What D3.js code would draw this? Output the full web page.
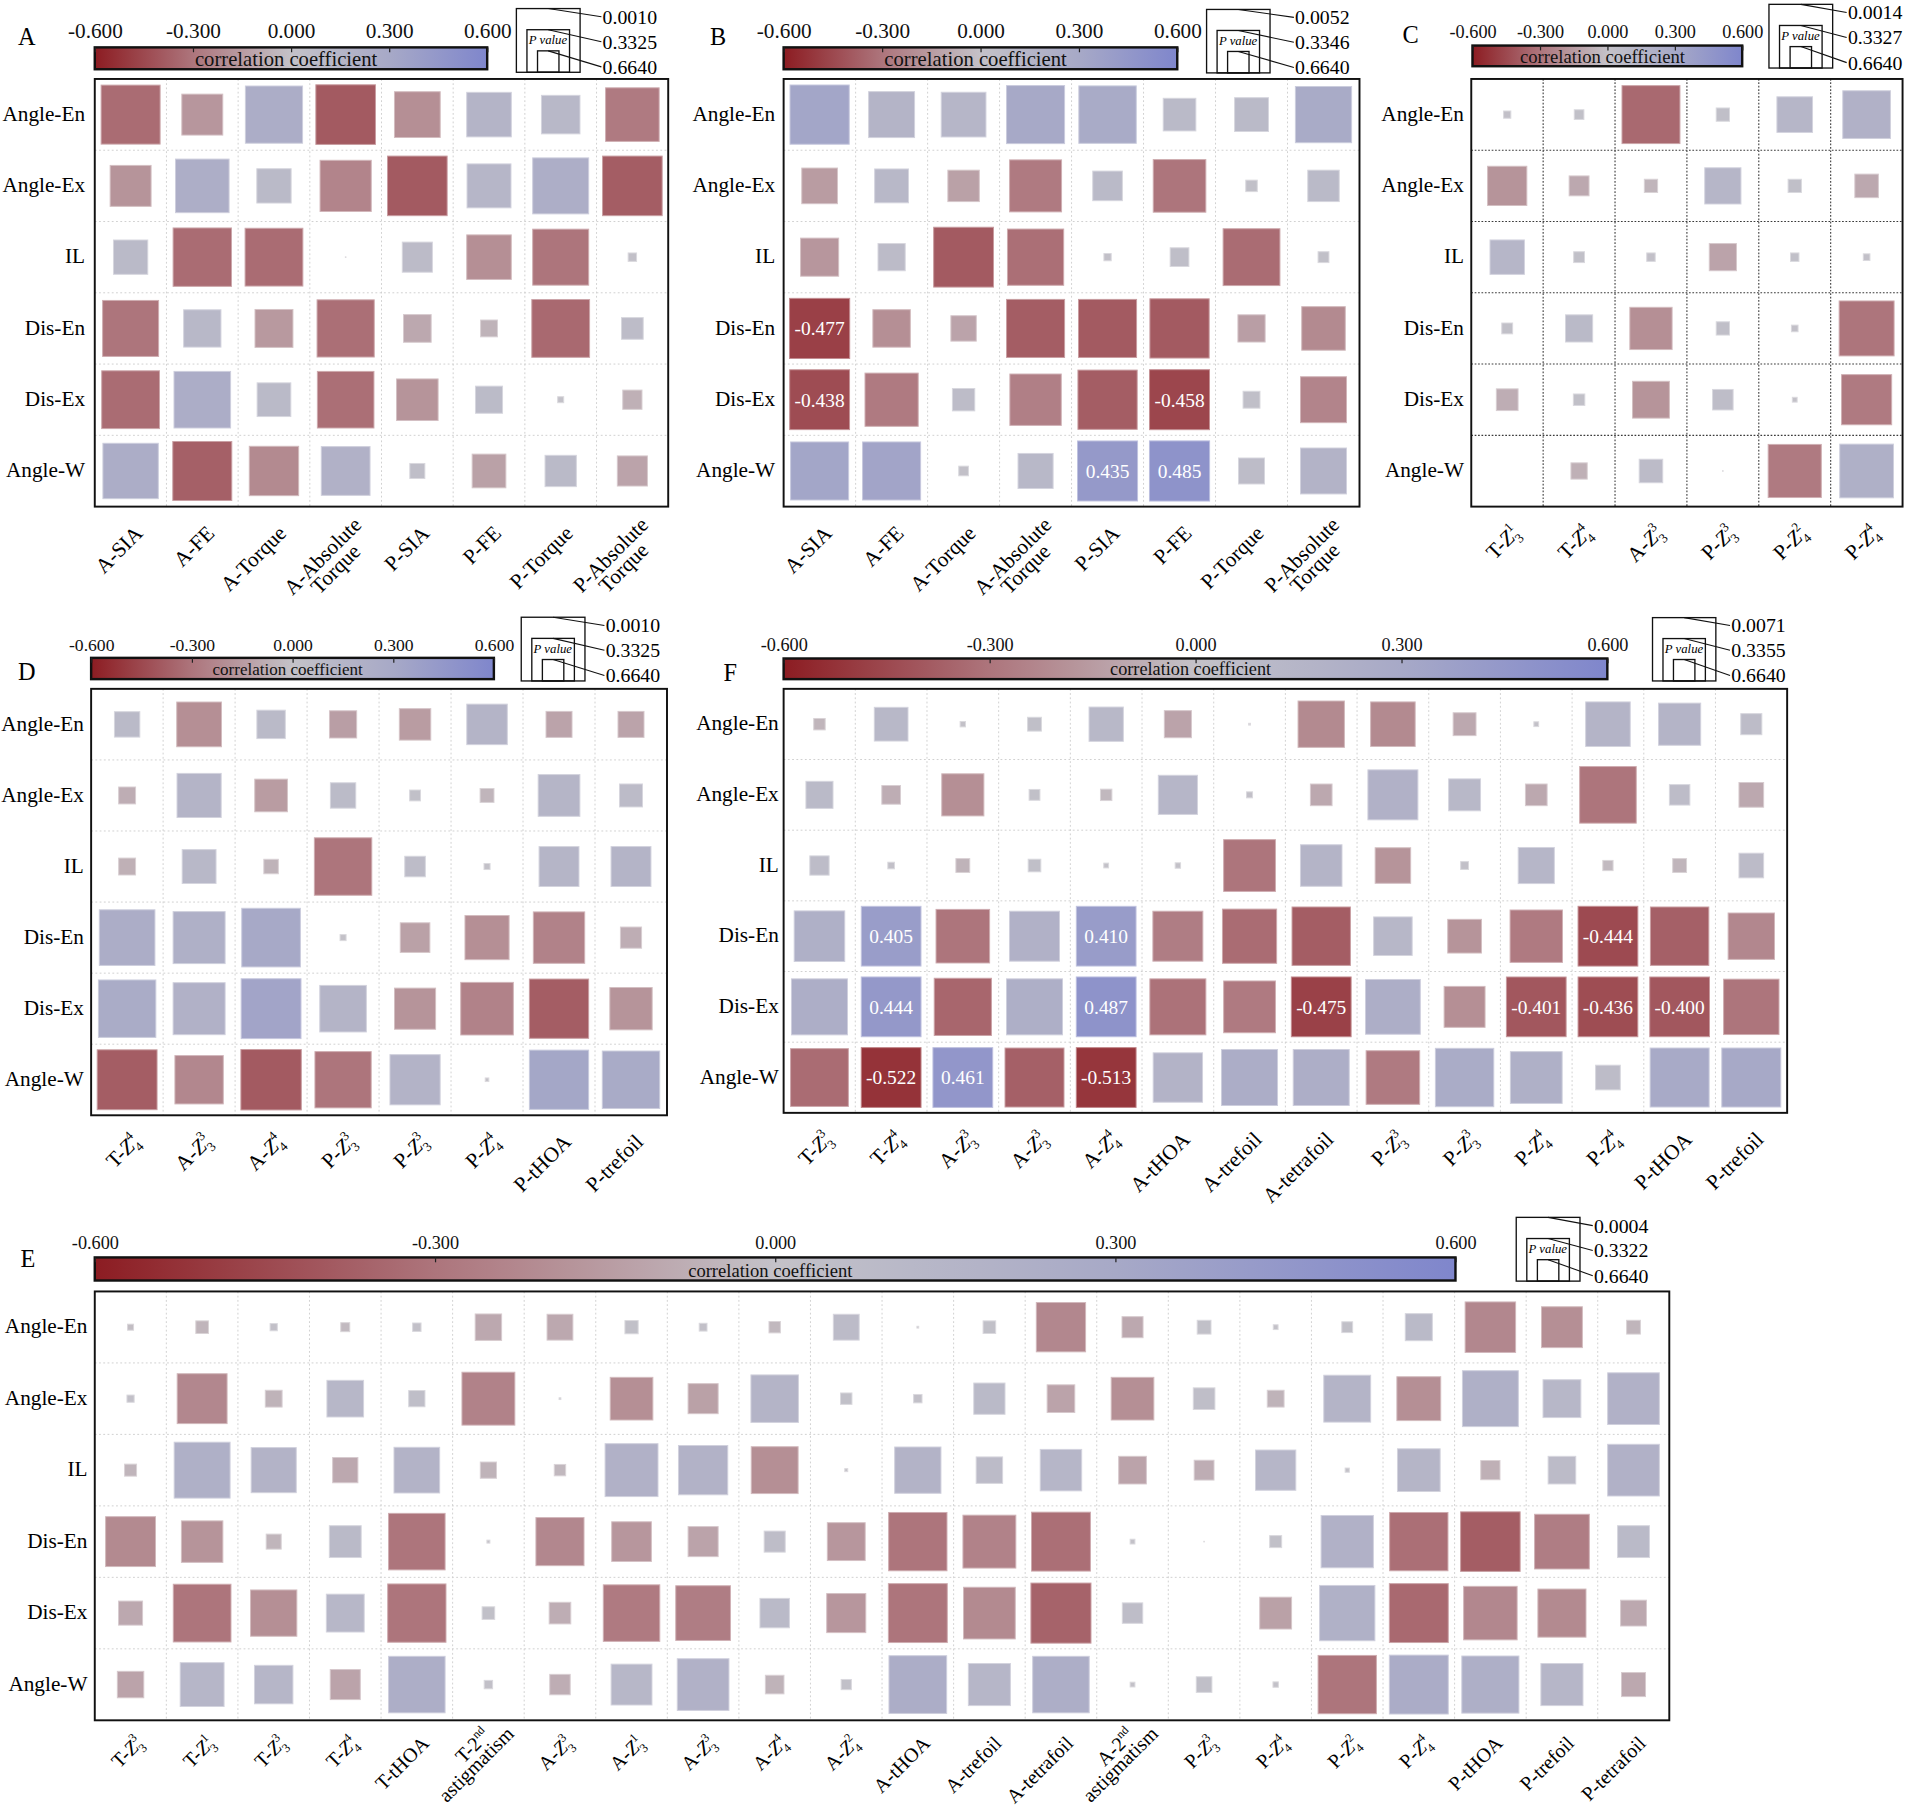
<!DOCTYPE html>
<html lang="en">
<head>
<meta charset="utf-8">
<title>correlation square maps</title>
<script src="https://d3js.org/d3.v7.min.js"></script>
<style>
body{margin:0;background:#fff;}
svg{display:block;font-family:"Liberation Serif","Times New Roman",serif;}
</style>
</head>
<body>
<div id="chart"></div>
<script>
// rows are shared by every panel
var rowNames = ["Angle-En","Angle-Ex","IL","Dis-En","Dis-Ex","Angle-W"]

// column labels ("|" = new line, Z_a^b = Zernike term, ^xx = superscript)
var colsA = ["A-SIA","A-FE","A-Torque","A-Absolute|Torque","P-SIA","P-FE","P-Torque","P-Absolute|Torque"]
var colsB = ["A-SIA","A-FE","A-Torque","A-Absolute|Torque","P-SIA","P-FE","P-Torque","P-Absolute|Torque"]
var colsC = ["T-Z_3^1","T-Z_4^4","A-Z_3^3","P-Z_3^3","P-Z_4^2","P-Z_4^4"]
var colsD = ["T-Z_4^4","A-Z_3^3","A-Z_4^4","P-Z_3^3","P-Z_3^3","P-Z_4^4","P-tHOA","P-trefoil"]
var colsF = ["T-Z_3^3","T-Z_4^4","A-Z_3^3","A-Z_3^3","A-Z_4^4","A-tHOA","A-trefoil","A-tetrafoil","P-Z_3^3","P-Z_3^3","P-Z_4^4","P-Z_4^4","P-tHOA","P-trefoil"]
var colsE = ["T-Z_3^3","T-Z_3^1","T-Z_3^3","T-Z_4^4","T-tHOA","T-2^nd|astigmatism","A-Z_3^3","A-Z_3^1","A-Z_3^3","A-Z_4^4","A-Z_4^2","A-tHOA","A-trefoil","A-tetrafoil","A-2^nd|astigmatism","P-Z_3^3","P-Z_4^4","P-Z_4^2","P-Z_4^4","P-tHOA","P-trefoil","P-tetrafoil"]

// colour bar ticks and p value legend values
var barTicks = [-0.6,-0.3,0,0.3,0.6]
var legPA = [0.0010,0.3325,0.6640]
var legPB = [0.0052,0.3346,0.6640]
var legPC = [0.0014,0.3327,0.6640]
var legPD = [0.0010,0.3325,0.6640]
var legPF = [0.0071,0.3355,0.6640]
var legPE = [0.0004,0.3322,0.6640]

// correlation coefficients (colour) and p values (square size), row by row
var rA = [
 [-0.33,-0.17,0.25,-0.39,-0.20,0.17,0.12,-0.28],
 [-0.18,0.24,0.10,-0.24,-0.39,0.15,0.24,-0.38],
 [0.10,-0.33,-0.33,0.00,0.08,-0.20,-0.30,0.02],
 [-0.30,0.12,-0.16,-0.32,-0.10,-0.06,-0.34,0.07],
 [-0.33,0.25,0.10,-0.32,-0.18,0.09,0.01,-0.07],
 [0.25,-0.37,-0.22,0.20,0.05,-0.13,0.10,-0.12]]
var pA = [
 [0.02,0.32,0.05,0.01,0.24,0.26,0.36,0.11],
 [0.32,0.11,0.43,0.15,0.01,0.27,0.07,0.01],
 [0.43,0.03,0.04,0.99,0.50,0.26,0.07,0.86],
 [0.07,0.38,0.37,0.05,0.54,0.72,0.04,0.64],
 [0.04,0.06,0.44,0.06,0.31,0.55,0.90,0.68],
 [0.08,0.02,0.18,0.19,0.75,0.44,0.48,0.50]]

var rB = [
 [0.33,0.17,0.15,0.30,0.28,0.10,0.10,0.28],
 [-0.15,0.12,-0.13,-0.28,0.10,-0.30,0.03,0.10],
 [-0.17,0.08,-0.39,-0.32,0.02,0.05,-0.33,0.03],
 [-0.477,-0.20,-0.12,-0.38,-0.39,-0.39,-0.14,-0.22],
 [-0.438,-0.28,0.07,-0.26,-0.38,-0.458,0.04,-0.24],
 [0.33,0.34,0.02,0.12,0.435,0.485,0.07,0.18]]
var pB = [
 [0.02,0.24,0.26,0.04,0.05,0.46,0.44,0.07],
 [0.41,0.44,0.48,0.14,0.51,0.13,0.81,0.48],
 [0.37,0.55,0.01,0.07,0.88,0.69,0.06,0.82],
 [0.005,0.38,0.58,0.04,0.04,0.02,0.55,0.28],
 [0.01,0.12,0.63,0.15,0.02,0.008,0.72,0.24],
 [0.04,0.04,0.84,0.42,0.007,0.0052,0.57,0.24]]

var rC = [
 [0.02,0.03,-0.34,0.04,0.14,0.20],
 [-0.18,-0.10,-0.05,0.15,0.04,-0.10],
 [0.14,0.03,0.02,-0.12,0.03,0.02],
 [0.03,0.10,-0.20,0.04,0.02,-0.30],
 [-0.08,0.03,-0.18,0.06,0.01,-0.28],
 [0.00,-0.07,0.08,0.00,-0.28,0.22]]
var pC = [
 [0.88,0.84,0.04,0.78,0.41,0.21],
 [0.35,0.67,0.78,0.40,0.78,0.61],
 [0.43,0.82,0.86,0.55,0.86,0.89],
 [0.82,0.55,0.30,0.78,0.89,0.09],
 [0.64,0.81,0.39,0.66,0.92,0.17],
 [1.00,0.73,0.61,0.99,0.12,0.11]]

var rD = [
 [0.10,-0.20,0.10,-0.14,-0.15,0.17,-0.12,-0.12],
 [-0.08,0.17,-0.15,0.09,0.03,-0.05,0.16,0.08],
 [-0.07,0.12,-0.06,-0.30,0.07,0.01,0.16,0.17],
 [0.25,0.22,0.30,0.01,-0.13,-0.20,-0.25,-0.08],
 [0.27,0.20,0.34,0.17,-0.18,-0.25,-0.38,-0.18],
 [-0.38,-0.23,-0.39,-0.30,0.18,0.00,0.32,0.28]]
var pD = [
 [0.58,0.26,0.53,0.55,0.48,0.33,0.57,0.57],
 [0.72,0.27,0.46,0.58,0.82,0.77,0.31,0.62],
 [0.72,0.44,0.76,0.05,0.66,0.90,0.34,0.34],
 [0.08,0.14,0.03,0.90,0.51,0.27,0.15,0.65],
 [0.05,0.14,0.01,0.23,0.32,0.13,0.02,0.30],
 [0.01,0.20,0.001,0.07,0.17,0.94,0.02,0.05]]

var rF = [
 [-0.05,0.12,0.01,0.04,0.12,-0.12,0.00,-0.22,-0.22,-0.10,0.01,0.17,0.17,0.07],
 [0.10,-0.08,-0.20,0.03,-0.04,0.15,0.02,-0.10,0.20,0.12,-0.10,-0.30,0.07,-0.10],
 [0.07,0.02,-0.06,0.04,0.01,0.01,-0.30,0.17,-0.18,0.02,0.15,-0.03,-0.05,0.08],
 [0.22,0.405,-0.30,0.20,0.410,-0.27,-0.33,-0.38,0.13,-0.18,-0.28,-0.444,-0.37,-0.23],
 [0.24,0.444,-0.35,0.23,0.487,-0.31,-0.28,-0.475,0.24,-0.20,-0.401,-0.436,-0.400,-0.30],
 [-0.33,-0.522,0.461,-0.37,-0.513,0.18,0.25,0.24,-0.28,0.27,0.22,0.07,0.29,0.30]]
var pF = [
 [0.81,0.44,0.91,0.77,0.43,0.55,0.97,0.23,0.26,0.62,0.92,0.26,0.30,0.65],
 [0.55,0.69,0.30,0.82,0.81,0.35,0.90,0.64,0.17,0.47,0.64,0.06,0.66,0.59],
 [0.68,0.89,0.77,0.79,0.92,0.91,0.14,0.31,0.41,0.87,0.40,0.83,0.77,0.59],
 [0.16,0.008,0.11,0.17,0.008,0.17,0.10,0.03,0.36,0.44,0.13,0.007,0.03,0.23],
 [0.07,0.0071,0.05,0.07,0.0071,0.07,0.14,0.0071,0.09,0.32,0.008,0.0075,0.008,0.08],
 [0.04,0.0071,0.0071,0.02,0.0071,0.18,0.07,0.07,0.11,0.03,0.14,0.59,0.02,0.02]]

var rE = [
 [-0.02,-0.05,0.02,-0.03,0.02,-0.10,-0.10,0.03,0.02,-0.04,0.08,0.00,0.03,-0.23,-0.10,0.03,0.01,0.03,0.10,-0.23,-0.20,-0.05],
 [0.02,-0.23,-0.06,0.13,0.05,-0.25,0.00,-0.20,-0.13,0.17,0.03,0.02,0.10,-0.12,-0.20,0.05,-0.06,0.17,-0.20,0.22,0.13,0.20],
 [-0.05,0.22,0.18,-0.10,0.18,-0.06,-0.04,0.20,0.19,-0.20,0.00,0.18,0.08,0.15,-0.12,-0.08,0.15,0.01,0.16,-0.07,0.08,0.20],
 [-0.22,-0.18,-0.05,0.10,-0.30,0.00,-0.23,-0.17,-0.12,0.06,-0.17,-0.30,-0.25,-0.32,0.01,0.00,0.03,0.20,-0.32,-0.38,-0.27,0.10],
 [-0.10,-0.30,-0.20,0.13,-0.30,0.03,-0.08,-0.28,-0.27,0.10,-0.17,-0.30,-0.22,-0.36,0.06,0.00,-0.13,0.21,-0.34,-0.23,-0.22,-0.10],
 [-0.12,0.15,0.15,-0.12,0.24,0.02,-0.08,0.13,0.20,-0.06,0.03,0.25,0.15,0.24,0.01,0.04,0.01,-0.30,0.26,0.23,0.15,-0.10]]
var pE = [
 [0.90,0.79,0.88,0.85,0.86,0.56,0.57,0.78,0.87,0.81,0.57,0.97,0.79,0.18,0.65,0.77,0.92,0.82,0.55,0.16,0.32,0.77],
 [0.88,0.17,0.72,0.39,0.73,0.12,0.97,0.29,0.50,0.21,0.81,0.86,0.48,0.54,0.29,0.64,0.72,0.22,0.27,0.07,0.37,0.14],
 [0.80,0.07,0.25,0.58,0.24,0.73,0.81,0.12,0.18,0.22,0.95,0.23,0.56,0.31,0.54,0.67,0.33,0.93,0.29,0.68,0.54,0.14],
 [0.17,0.31,0.75,0.47,0.06,0.95,0.20,0.34,0.50,0.65,0.37,0.03,0.12,0.02,0.92,0.99,0.80,0.13,0.03,0.01,0.09,0.47],
 [0.60,0.04,0.23,0.37,0.03,0.79,0.64,0.06,0.09,0.51,0.35,0.02,0.14,0.0004,0.66,1.00,0.47,0.08,0.02,0.11,0.20,0.57],
 [0.56,0.27,0.36,0.50,0.06,0.86,0.66,0.32,0.14,0.69,0.83,0.04,0.30,0.06,0.92,0.74,0.91,0.03,0.02,0.05,0.30,0.60]]

// drawing is done in the 1568 wide coordinate space, scaled up to the window
var svg = d3.select("#chart").append("svg")
    .attr("width",1905).attr("height",1809)
    .attr("viewBox","0 0 1568 1489")

var color = d3.scaleLinear()
    .domain([-0.6,-0.3,0,0.3,0.6])
    .range(["#8c1c22","#ad757c","#c4c2c8","#a7a9c7","#7f86cc"])

// one gradient for all colour bars
var grad = svg.append("defs").append("linearGradient").attr("id","cbar")
d3.range(0,1.0001,0.05).forEach(function(t){
    grad.append("stop").attr("offset",t).attr("stop-color",color(-0.6+1.2*t))
})

var fmt = function(d){ return d3.format(".3f")(d).replace("\u2212","-") }

// write a label line with Zernike sub/superscripts
function richLine(text, str, fs){
    var m = str.match(/^(.*?)Z_(\d)\^(-?\d+)$/)
    if(m){
        text.append("tspan").text(m[1])
        text.append("tspan").attr("font-style","italic").text("Z")
        text.append("tspan").attr("font-size",fs*0.62).attr("dy",fs*0.28).text(m[2])
        text.append("tspan").attr("font-size",fs*0.62).attr("dx",-fs*0.31*m[2].length).attr("dy",-fs*0.72).text(m[3])
        return
    }
    var s = str.match(/^(.*?)\^(\w+)$/)
    if(s){
        text.append("tspan").text(s[1])
        text.append("tspan").attr("font-size",fs*0.6).attr("dy",-fs*0.42).text(s[2])
        return
    }
    text.text(str)
}

var panels = [
 {letter:"A", lx:22, ly:37, frame:[78,65,472,352], bar:[78,401,39,18], tickFs:17.5, tickBase:31, ccFs:17, leg:[425,7,52.5,496], legP:legPA, cols:colsA, r:rA, p:pA, rowGap:8, dark:false, align:"middle", labDy:23, xfs:17.5},
 {letter:"B", lx:591, ly:37, frame:[645,65,474,352], bar:[645,969,39,18], tickFs:17.5, tickBase:31, ccFs:17, leg:[993,7.5,52.5,1066], legP:legPB, cols:colsB, r:rB, p:pB, rowGap:7, dark:false, align:"middle", labDy:23, xfs:17.5},
 {letter:"C", lx:1161, ly:35, frame:[1211,65,355,352], bar:[1212,1434,37.5,17], tickFs:15, tickBase:31, ccFs:15.4, leg:[1456,3.5,52.5,1521], legP:legPC, cols:colsC, r:rC, p:pC, rowGap:6, dark:true, align:"middle", labDy:23, xfs:17.5},
 {letter:"D", lx:22, ly:560, frame:[75,567,474,351], bar:[75,406.5,541.5,17.5], tickFs:14.5, tickBase:536, ccFs:14, leg:[429,508,52.5,498.5], legP:legPD, cols:colsD, r:rD, p:pD, rowGap:6, dark:false, align:"middle", labDy:23, xfs:17.5},
 {letter:"F", lx:601, ly:560.5, frame:[645,567,826,349], bar:[645,1323,542,17], tickFs:15, tickBase:536, ccFs:15, leg:[1360,508,52.5,1425], legP:legPF, cols:colsF, r:rF, p:pF, rowGap:4, dark:false, align:"middle", labDy:23, xfs:17.5},
 {letter:"E", lx:23, ly:1043, frame:[78,1063,1296,353], bar:[78,1198,1035,19], tickFs:15, tickBase:1028, ccFs:15.3, leg:[1248,1002,52.5,1312], legP:legPE, cols:colsE, r:rE, p:pE, rowGap:6, dark:false, align:"end", labDy:20, xfs:16.5}
]

function drawPanel(cfg){
    var g = svg.append("g")
    var fx = cfg.frame[0], fy = cfg.frame[1], fw = cfg.frame[2], fh = cfg.frame[3]
    var n = cfg.cols.length

    var xScale = d3.scaleBand().domain(d3.range(n)).range([fx,fx+fw])
    var yScale = d3.scaleBand().domain(rowNames).range([fy,fy+fh])
    // square side shrinks as p grows
    var side = d3.scaleLinear().domain([0,1]).range([xScale.bandwidth()*0.84,0])

    // dotted grid
    var grid = g.append("g")
        .attr("stroke",cfg.dark ? "#3a3a3a" : "#cfcfcf")
        .attr("stroke-width",cfg.dark ? 0.9 : 0.8)
        .attr("stroke-dasharray",cfg.dark ? "1.4,1.4" : "1.5,2")
    d3.range(1,n).forEach(function(i){
        grid.append("line").attr("x1",xScale(i)).attr("x2",xScale(i)).attr("y1",fy).attr("y2",fy+fh)
    })
    rowNames.slice(1).forEach(function(rn){
        grid.append("line").attr("x1",fx).attr("x2",fx+fw).attr("y1",yScale(rn)).attr("y2",yScale(rn))
    })

    var cells = []
    cfg.r.forEach(function(row,i){
        row.forEach(function(v,j){ cells.push({row:rowNames[i], col:j, r:v, p:cfg.p[i][j]}) })
    })

    g.selectAll(".sq").data(cells.filter(function(d){ return side(d.p) > 0.4 }))
        .enter().append("rect")
        .attr("class","sq")
        .attr("x",function(d){ return xScale(d.col)+xScale.bandwidth()/2-side(d.p)/2 })
        .attr("y",function(d){ return yScale(d.row)+yScale.bandwidth()/2-side(d.p)/2 })
        .attr("width",function(d){ return side(d.p) })
        .attr("height",function(d){ return side(d.p) })
        .attr("fill",function(d){ return color(d.r) })
        .attr("stroke",function(d){ return d3.interpolateRgb(color(d.r),"#ffffff")(0.4) })
        .attr("stroke-width",0.8)

    g.selectAll(".val").data(cells.filter(function(d){ return Math.abs(d.r) >= 0.3995 }))
        .enter().append("text")
        .attr("class","val")
        .attr("x",function(d){ return xScale(d.col)+xScale.bandwidth()/2 })
        .attr("y",function(d){ return yScale(d.row)+yScale.bandwidth()/2 })
        .attr("dy","0.35em")
        .attr("text-anchor","middle")
        .attr("fill","#fff")
        .attr("font-size",16)
        .text(function(d){ return fmt(d.r) })

    g.append("rect").attr("x",fx).attr("y",fy).attr("width",fw).attr("height",fh)
        .attr("fill","none").attr("stroke","#111").attr("stroke-width",1.6)

    // row labels
    g.selectAll(".rl").data(rowNames).enter().append("text")
        .attr("x",fx-cfg.rowGap)
        .attr("y",function(d){ return yScale(d)+yScale.bandwidth()/2-1 })
        .attr("dy","0.35em")
        .attr("text-anchor","end")
        .attr("font-size",17.5)
        .text(function(d){ return d })

    // rotated column labels
    var xfs = cfg.xfs, lh = xfs*0.86
    var bottom = fy+fh
    cfg.cols.forEach(function(lab,j){
        var cx = xScale(j)+xScale.bandwidth()/2
        var lines = lab.split("|")
        if(lines.length == 1){
            var lg = g.append("g").attr("transform","translate("+(cx+11)+","+(bottom+cfg.labDy)+") rotate(-45)")
            var t = lg.append("text").attr("text-anchor","end").attr("font-size",xfs)
            richLine(t,lines[0],xfs)
        } else if(cfg.align == "end"){
            // last (long) line ends near the frame, short first line sits a little before its end
            var last = lines.length-1
            var lg2 = g.append("g").attr("transform","translate("+(cx+22)+","+(bottom+12)+") rotate(-45)")
            lines.forEach(function(line,i){
                var t = lg2.append("text").attr("text-anchor","end").attr("font-size",xfs)
                    .attr("x",i == last ? 0 : -15).attr("y",(i-last)*13)
                richLine(t,line,xfs)
            })
        } else {
            var lg3 = g.append("g").attr("transform","translate("+(cx+14)+","+(bottom+16)+") rotate(-45)")
            var texts = lines.map(function(line,i){
                var t = lg3.append("text").attr("text-anchor","middle").attr("font-size",xfs).attr("y",i*lh)
                richLine(t,line,xfs)
                return t
            })
            var maxLen = d3.max(texts,function(t){ return t.node().getComputedTextLength() })
            texts.forEach(function(t){ t.attr("x",-maxLen/2) })
        }
    })

    // colour bar
    var bx0 = cfg.bar[0], bx1 = cfg.bar[1], by = cfg.bar[2], bh = cfg.bar[3]
    var barScale = d3.scaleLinear().domain([-0.6,0.6]).range([bx0,bx1])
    g.append("rect").attr("x",bx0).attr("y",by).attr("width",bx1-bx0).attr("height",bh)
        .attr("fill","url(#cbar)").attr("stroke","#111").attr("stroke-width",2)
    var ax = g.append("g").attr("transform","translate(0,"+by+")")
        .call(d3.axisTop(barScale).tickValues(barTicks).tickFormat(fmt)
            .tickSize(-4).tickPadding(by-cfg.tickBase))
    ax.select(".domain").remove()
    ax.attr("font-family",null)
    ax.selectAll("text").attr("font-size",cfg.tickFs).attr("fill","#111")
    ax.selectAll("line").attr("stroke","#222")
    g.append("text").attr("x",(bx0+bx1)/2-4).attr("y",by+bh-3)
        .attr("text-anchor","middle").attr("font-size",cfg.ccFs).attr("fill","#111")
        .text("correlation coefficient")

    // p value legend
    var lx = cfg.leg[0], ly = cfg.leg[1], ls = cfg.leg[2], labX = cfg.leg[3]
    var lcx = lx+ls/2, lbottom = ly+ls
    var labY = [0.13,0.52,0.915]
    cfg.legP.forEach(function(pv,i){
        var s = ls*(1-pv)
        g.append("rect").attr("x",lcx-s/2).attr("y",lbottom-s).attr("width",s).attr("height",s)
            .attr("fill","none").attr("stroke","#111").attr("stroke-width",1.1)
        g.append("line").attr("x1",lcx).attr("y1",lbottom-s).attr("x2",labX-1).attr("y2",ly+ls*labY[i])
            .attr("stroke","#111").attr("stroke-width",0.9)
        g.append("text").attr("x",labX).attr("y",ly+ls*labY[i]).attr("dy","0.35em")
            .attr("font-size",16.3).text(pv.toFixed(4))
    })
    var midS = ls*(1-cfg.legP[1])
    g.append("text").attr("x",lcx-midS/2+1.5).attr("y",lbottom-midS+12)
        .attr("font-size",10.5).attr("font-style","italic").text("P value")

    g.append("text").attr("x",cfg.lx).attr("y",cfg.ly).attr("text-anchor","middle")
        .attr("font-size",20).text(cfg.letter)
}

panels.forEach(drawPanel)
</script>
</body>
</html>
